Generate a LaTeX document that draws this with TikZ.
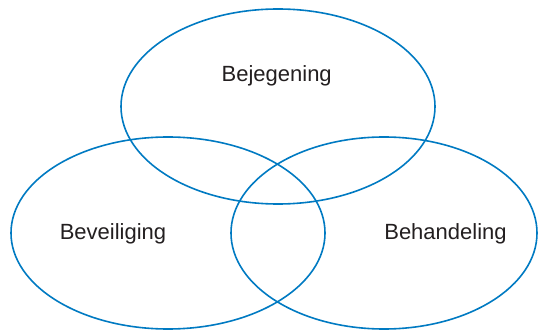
\documentclass[tikz,border=0pt]{standalone}
\usepackage{fontspec}
\setmainfont{Liberation Sans}
\definecolor{ringblue}{RGB}{0,122,194}
\definecolor{txtgray}{RGB}{35,31,32}
\begin{document}
\begin{tikzpicture}[x=1pt,y=-1pt,
  ring/.style={draw=ringblue,line width=1.6pt},
  lbl/.style={anchor=base,text=txtgray,font=\fontsize{22}{24}\selectfont,inner sep=0pt}]
\useasboundingbox (0,0) rectangle (538,331);
\draw[ring] (278,106.5) ellipse [x radius=157, y radius=97.5];
\draw[ring] (168,233) ellipse [x radius=157, y radius=96];
\draw[ring] (384,233) ellipse [x radius=153, y radius=96];
\node[lbl] (top) at (276.7,81.7) {Bejegening};
\node[lbl] (left) at (113,240) {Beveiliging};
\node[lbl] (right) at (445.5,240) {Behandeling};
\end{tikzpicture}
\end{document}
